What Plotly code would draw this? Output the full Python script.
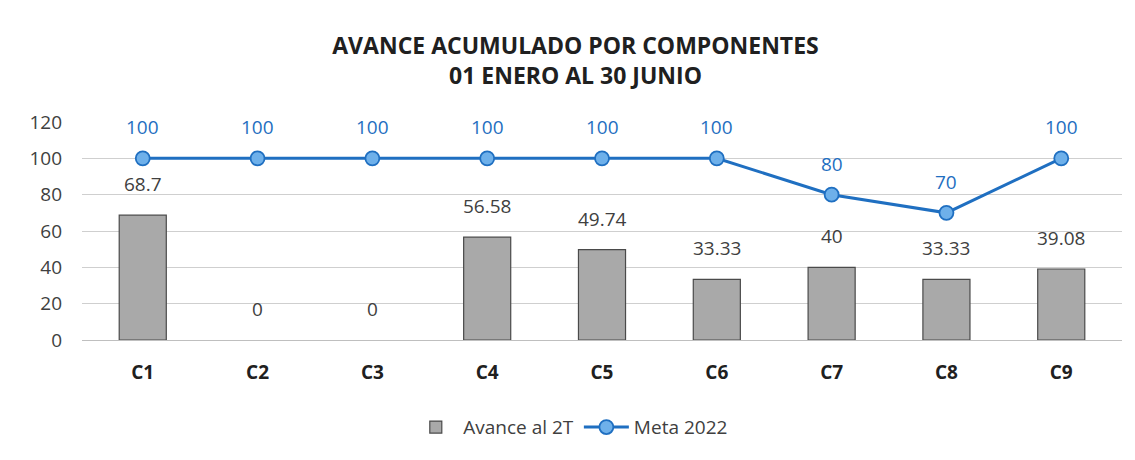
import plotly.graph_objects as go

categories = ["C1", "C2", "C3", "C4", "C5", "C6", "C7", "C8", "C9"]
avance = [68.7, 0, 0, 56.58, 49.74, 33.33, 40, 33.33, 39.08]
meta = [100, 100, 100, 100, 100, 100, 80, 70, 100]
y_ticks = [0, 20, 40, 60, 80, 100, 120]

FONT = "Open Sans"

fig = go.Figure()
fig.add_trace(go.Bar(
    x=categories, y=avance, name="Avance al 2T",
    marker=dict(color="#a9a9a9",
                line=dict(color="#4a4a4a", width=[1.2 if v > 0 else 0 for v in avance])),
    width=0.41,
))
fig.add_trace(go.Scatter(
    x=categories, y=meta, name="Meta 2022", mode="lines+markers",
    line=dict(color="#1f6fc1", width=3),
    marker=dict(size=14, color="#6eb0ea", line=dict(color="#1f6fc1", width=1.8)),
))

annotations = []
for c, v in zip(categories, avance):
    annotations.append(dict(x=c, y=v, text=f"{v:g}", showarrow=False, yanchor="bottom",
                            yshift=16, font=dict(family=FONT, size=19, color="#404040")))
for c, v in zip(categories, meta):
    annotations.append(dict(x=c, y=v, text=f"{v:g}", showarrow=False, yanchor="bottom",
                            yshift=16, font=dict(family=FONT, size=19, color="#1f6fc1")))

fig.update_layout(
    width=1135, height=460,
    margin=dict(l=74, r=21, t=114, b=128),
    paper_bgcolor="white", plot_bgcolor="white",
    title=dict(text="<b>AVANCE ACUMULADO POR COMPONENTES<br>01 ENERO AL 30 JUNIO</b>",
               x=0.5, xanchor="center", y=0.899, yanchor="top",
               font=dict(family=FONT, size=23, color="#202020")),
    legend=dict(orientation="h", x=0.47, xanchor="center", y=-0.40, yanchor="middle",
                itemwidth=45,
                font=dict(family=FONT, size=19, color="#404040")),
    annotations=annotations,
    xaxis=dict(tickfont=dict(family=FONT, size=19, color="#202020"),
               tickprefix="<b>", ticksuffix="</b>", showline=True, linecolor="#bfbfbf",
               ticks="", ticklabelstandoff=15),
    yaxis=dict(range=[0, 120], tickvals=y_ticks, showgrid=True, gridcolor="#cfcfcf",
               zeroline=False, tickfont=dict(family=FONT, size=19, color="#404040"),
               ticklabelstandoff=19),
)

fig.write_html("out.html")
